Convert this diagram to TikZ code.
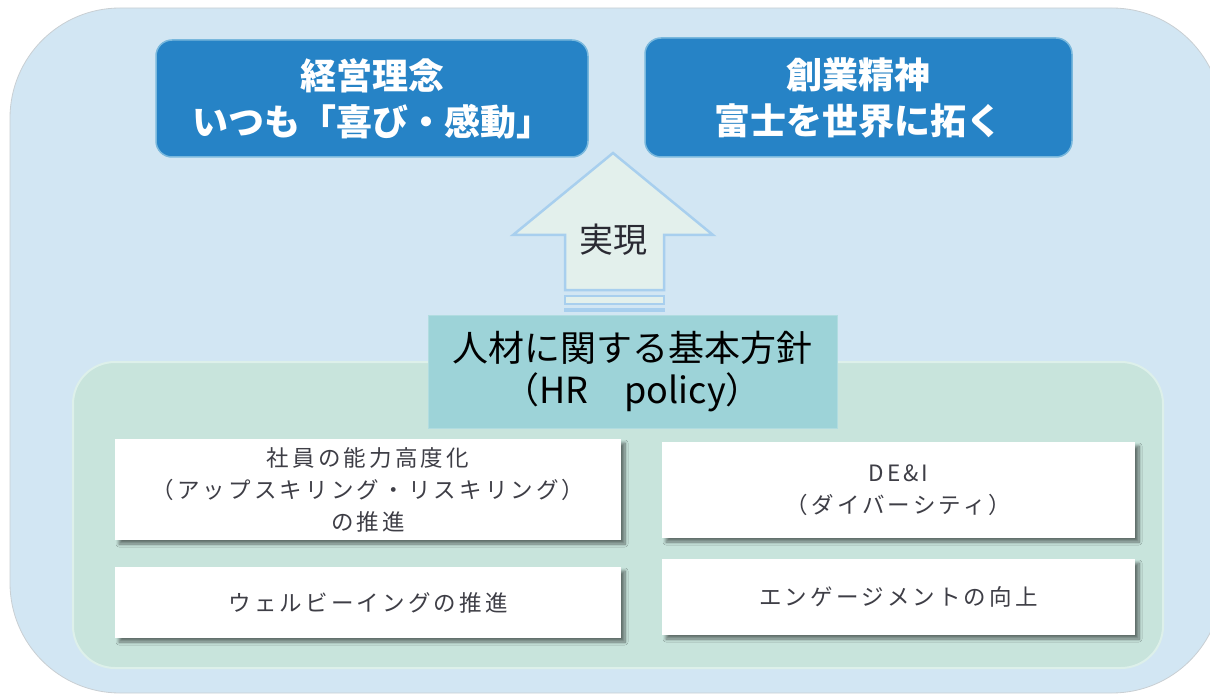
\documentclass[tikz,border=0pt]{standalone}
\usepackage{fontspec}
\setmainfont{Noto Sans CJK JP}
\usetikzlibrary{shadows.blur}
\definecolor{outerbg}{HTML}{D2E6F3}
\definecolor{outeredge}{HTML}{C9CFD3}
\definecolor{bluebox}{HTML}{2683C6}
\definecolor{blueedge}{HTML}{79B8DD}
\definecolor{arrowfill}{HTML}{E3F0EC}
\definecolor{arrowline}{HTML}{A8CFEE}
\definecolor{hrfill}{HTML}{9DD3D8}
\definecolor{greenbg}{HTML}{C8E4DC}
\definecolor{greenedge}{HTML}{DDF0EA}
\definecolor{txtgray}{HTML}{3E3E46}
\definecolor{txtdark}{HTML}{2A2A33}
\tikzset{
  bluebx/.style={rectangle, rounded corners=16pt, fill=bluebox, draw=blueedge, line width=1.5pt,
    text=white, font=\fontsize{36}{46}\selectfont\bfseries, align=center, inner sep=0pt},
  hrbx/.style={rectangle, fill=hrfill, draw=hrfill!80!white, line width=1pt, text=black,
    font=\fontsize{36}{42}\selectfont, align=center, inner sep=0pt},
  whitebx/.style={rectangle, fill=white, inner sep=0pt, text=txtgray, align=center,
    font=\fontsize{22.5}{32}\selectfont\addfontfeature{LetterSpace=14},
    blur shadow={shadow xshift=4pt, shadow yshift=-4pt, shadow blur steps=10, shadow opacity=50, shadow blur radius=3pt}},
  arrowshape/.style={fill=arrowfill, draw=arrowline, line width=2.5pt, line join=miter}
}
\begin{document}
\begin{tikzpicture}[x=1pt,y=-1pt]
\useasboundingbox (0,0) rectangle (1210,695);
\clip (0,0) rectangle (1210,695);
% outer panel
\draw[fill=outerbg, draw=outeredge, line width=0.8pt, rounded corners=110pt] (10,8) rectangle (1222,693);
% green region
\draw[fill=greenbg, draw=greenedge, line width=2pt, rounded corners=42pt] (73,362) rectangle (1163,668);
% arrow
\draw[arrowshape] (613,153) -- (713,235) -- (664,235) -- (664,290) -- (565,290) -- (565,235) -- (513,235) -- cycle;
\draw[arrowshape, line width=2pt] (565,296) rectangle (664,304);
\fill[arrowline] (564,308) rectangle (665,312);
\node[font=\fontsize{34}{34}\selectfont, text=txtdark] (jitsugen) at (613,240) {実現};
% HR policy box
\node[hrbx, minimum width=409pt, minimum height=113pt] (hr) at (632.5,371.5) {人材に関する基本方針\\（HR　policy）};
% top blue boxes
\node[bluebx, minimum width=432pt, minimum height=117pt] (rinen) at (372,98.5) {経営理念\\いつも「喜び・感動」};
\node[bluebx, minimum width=427pt, minimum height=119pt] (soryo) at (858.5,97.5) {創業精神\\富士を世界に拓く};
% white boxes
\node[whitebx, minimum width=506pt, minimum height=101pt] (skill) at (368,489.5) {社員の能力高度化\\（アップスキリング・リスキリング）\\の推進};
\node[whitebx, minimum width=473pt, minimum height=96pt] (dei) at (898.5,490) {DE\&I\\（ダイバーシティ）};
\node[whitebx, minimum width=506pt, minimum height=71pt] (well) at (368,602.5) {ウェルビーイングの推進};
\node[whitebx, minimum width=473pt, minimum height=76pt] (eng) at (898.5,597) {エンゲージメントの向上};
\end{tikzpicture}
\end{document}
